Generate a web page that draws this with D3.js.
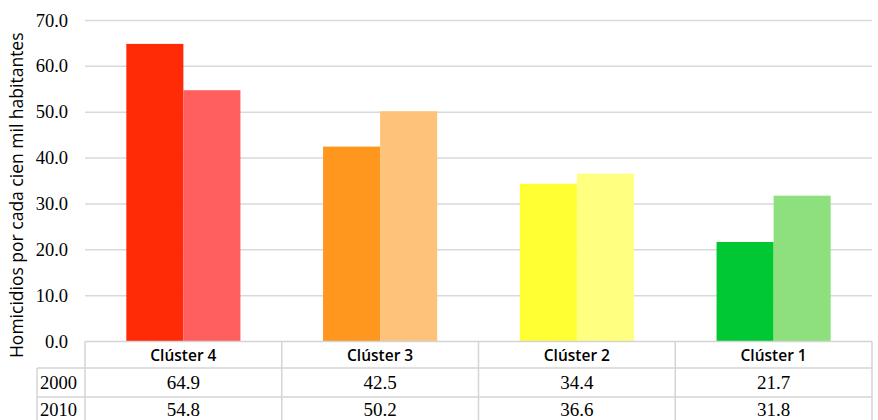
<!DOCTYPE html>
<html>
<head>
<meta charset="utf-8">
<script src="https://cdn.jsdelivr.net/npm/d3@7"></script>
</head>
<body style="margin:0">
<svg id="chart" width="878" height="420"></svg>
<script>
// Homicide rates per 100k inhabitants by cluster, 2000 vs 2010
const categories = ["Clúster 4", "Clúster 3", "Clúster 2", "Clúster 1"];
const years = ["2000", "2010"];
const values2000 = [64.9, 42.5, 34.4, 21.7];
const values2010 = [54.8, 50.2, 36.6, 31.8];
const colors2000 = ["#ff2a06", "#ff961e", "#ffff33", "#00c832"];
const colors2010 = ["#ff5f5f", "#ffc27a", "#ffff80", "#8ee07e"];
const yTicks = [0, 10, 20, 30, 40, 50, 60, 70];
const yTitle = "Homicidios por cada cien mil habitantes";

const series = [values2000, values2010];
const seriesColors = [colors2000, colors2010];

const svg = d3.select("#chart");
const plotLeft = 85, plotRight = 872, plotTop = 20.5, plotBottom = 341.5;

const x = d3.scaleBand().domain(categories).range([plotLeft, plotRight]);
const y = d3.scaleLinear().domain([0, 70]).range([plotBottom, plotTop]);

// Horizontal gridlines
svg.selectAll("line.grid").data(yTicks.filter(d => d > 0)).join("line")
  .attr("class", "grid")
  .attr("x1", plotLeft).attr("x2", plotRight)
  .attr("y1", d => y(d)).attr("y2", d => y(d))
  .attr("stroke", "#d9d9d9").attr("stroke-width", 1.5);

// Bars
const barW = x.bandwidth() * 0.29;
series.forEach((vals, si) => {
  svg.selectAll("rect.s" + si).data(categories).join("rect")
    .attr("class", "s" + si)
    .attr("x", c => x(c) + x.bandwidth() / 2 - barW + si * barW)
    .attr("y", (c, i) => y(vals[i]))
    .attr("width", barW)
    .attr("height", (c, i) => y(0) - y(vals[i]))
    .attr("fill", (c, i) => seriesColors[si][i]);
});

// Data table grid
const tableLeft = 37;
const headerTop = plotBottom, headerBottom = 368, row1Bottom = 397, row2Bottom = 426;
const tableLine = (x1, y1, x2, y2) => svg.append("line")
  .attr("x1", x1).attr("y1", y1).attr("x2", x2).attr("y2", y2)
  .attr("stroke", "#d4d4d4").attr("stroke-width", 1.5);
tableLine(plotLeft, headerTop, plotRight, headerTop);
[headerBottom, row1Bottom, row2Bottom].forEach(v => tableLine(tableLeft, v, plotRight, v));
categories.map(c => x(c)).concat([plotRight]).forEach(v => tableLine(v, headerTop, v, row2Bottom));
tableLine(tableLeft, headerBottom, tableLeft, row2Bottom);

// Y tick labels
svg.selectAll("text.tick").data(yTicks).join("text")
  .attr("class", "tick")
  .attr("x", 68).attr("y", d => y(d))
  .attr("dy", "0.33em")
  .attr("text-anchor", "end")
  .attr("font-size", 18.5)
  .style("font-family", '"Liberation Serif"')
  .text(d => d.toFixed(1));

// Y axis title
svg.append("text")
  .attr("transform", `translate(23, ${(plotTop + 370) / 2}) rotate(-90)`)
  .attr("text-anchor", "middle")
  .attr("font-size", 17.5)
  .style("font-family", '"Open Sans"')
  .text(yTitle);

// Header labels
svg.selectAll("text.head").data(categories).join("text")
  .attr("class", "head")
  .attr("x", c => x(c) + x.bandwidth() / 2)
  .attr("y", (headerTop + headerBottom) / 2 + 1)
  .attr("dy", "0.35em")
  .attr("text-anchor", "middle")
  .attr("font-weight", 600)
  .attr("font-size", 15.5)
  .style("font-family", '"Open Sans"')
  .text(c => c);

// Row labels and values
const rowCenters = [(headerBottom + row1Bottom) / 2, 410];
svg.selectAll("text.year").data(years).join("text")
  .attr("class", "year")
  .attr("x", 40).attr("y", (d, ri) => rowCenters[ri]).attr("dy", "0.33em")
  .attr("font-size", 18.5)
  .style("font-family", '"Liberation Serif"')
  .text(d => d);

series.forEach((vals, ri) => {
  svg.selectAll("text.v" + ri).data(categories).join("text")
    .attr("class", "v" + ri)
    .attr("x", c => x(c) + x.bandwidth() / 2)
    .attr("y", rowCenters[ri]).attr("dy", "0.33em")
    .attr("text-anchor", "middle")
    .attr("font-size", 19)
    .style("font-family", '"Liberation Serif"')
    .text((c, i) => vals[i].toFixed(1));
});
</script>
</body>
</html>
